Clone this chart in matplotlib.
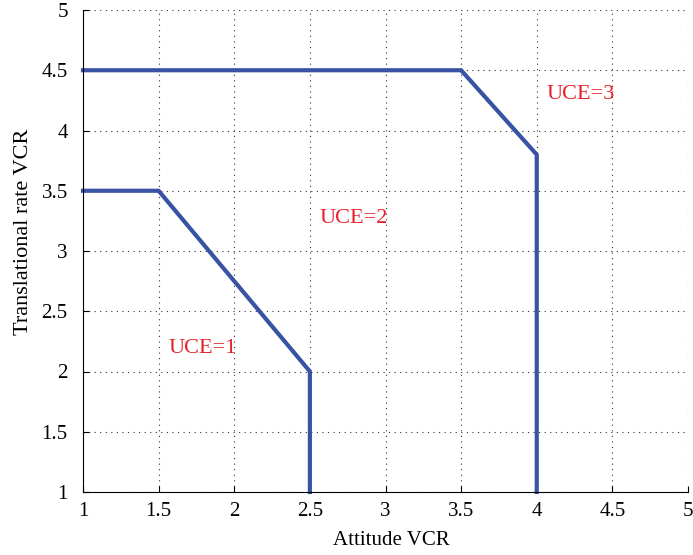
import matplotlib.pyplot as plt

# boundary curves between UCE levels
b1_x = [1, 1.5, 2.5, 2.5]
b1_y = [3.5, 3.5, 2, 1]
b2_x = [1, 3.5, 4, 4]
b2_y = [4.5, 4.5, 3.8, 1]

labels = ["UCE=1", "UCE=2", "UCE=3"]
label_x = [1.79, 2.79, 4.29]
label_y = [2.19, 3.27, 4.30]

ticks = [1, 1.5, 2, 2.5, 3, 3.5, 4, 4.5, 5]
tick_labels = ["1", "1.5", "2", "2.5", "3", "3.5", "4", "4.5", "5"]

plt.rcParams["font.family"] = ["Liberation Serif", "DejaVu Serif"]

fig = plt.figure(figsize=(6.93, 5.55), dpi=100)
ax = fig.add_axes([83 / 693, 63 / 555, 605 / 693, 482 / 555])

ax.plot(b1_x, b1_y, color="#3953a4", lw=3, solid_joinstyle="miter", clip_on=False)
ax.plot(b2_x, b2_y, color="#3953a4", lw=3, solid_joinstyle="miter", clip_on=False)

for t, x, y in zip(labels, label_x, label_y):
    ax.text(x, y, t, color="#e8202a", fontsize=16, ha="center", va="center")

ax.set_xlim(1, 5)
ax.set_ylim(1, 5)
ax.set_xticks(ticks)
ax.set_xticklabels(tick_labels)
ax.set_yticks(ticks)
ax.set_yticklabels(tick_labels)
ax.tick_params(direction="in", labelsize=15, length=4)
ax.tick_params(axis="y", pad=11)
ax.tick_params(axis="x", pad=7)
ax.grid(True, linestyle=(0, (1, 4)), color="#333333", lw=0.8)
ax.spines["top"].set_visible(False)
ax.spines["right"].set_visible(False)

ax.set_xlabel("Attitude VCR", fontsize=15)
ax.set_ylabel("Translational rate VCR", fontsize=16)
ax.xaxis.set_label_coords(0.51, -0.08)
ax.yaxis.set_label_coords(-0.083, 0.54)

fig.savefig("out.png", dpi=100)
